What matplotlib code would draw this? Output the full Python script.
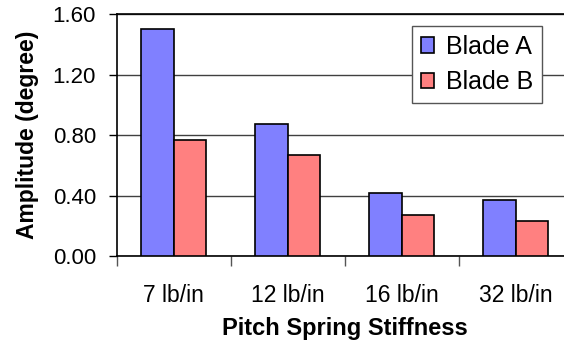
import matplotlib
matplotlib.use('Agg')
import matplotlib.pyplot as plt
import numpy as np

categories = ['7 lb/in', '12 lb/in', '16 lb/in', '32 lb/in']
blade_a = [1.50, 0.87, 0.42, 0.37]
blade_b = [0.77, 0.67, 0.27, 0.23]

plt.rcParams['font.family'] = ['Liberation Sans', 'DejaVu Sans']

fig = plt.figure(figsize=(5.64, 3.41), dpi=100)
ax = fig.add_axes([0.207, 0.249, 0.809, 0.710])

x = np.arange(len(categories))
w = 0.285
ax.bar(x - w / 2, blade_a, w, color='#8080FF', edgecolor='black', lw=1.2, label='Blade A', zorder=3)
ax.bar(x + w / 2, blade_b, w, color='#FF8080', edgecolor='black', lw=1.2, label='Blade B', zorder=3)

ax.set_xlim(-0.5, 3.5)
ax.set_ylim(0, 1.6)
ax.set_yticks(np.arange(0, 1.61, 0.4))
ax.set_yticklabels(['%.2f' % v for v in np.arange(0, 1.61, 0.4)], fontsize=16)
ax.yaxis.grid(True, color='#404040', lw=1.0, zorder=0)

# category labels sit between the boundary ticks
ax.set_xticks(np.arange(-0.5, 3.6, 1.0))
ax.set_xticklabels([])
ax.set_xticks(x, minor=True)
ax.set_xticklabels(categories, minor=True, fontsize=16.5)
ax.tick_params(axis='x', which='minor', length=0, pad=20)
ax.tick_params(axis='x', which='major', direction='out', length=7, width=1, color='#555555')
ax.tick_params(axis='y', direction='out', length=6, width=1, pad=9)

ax.spines['right'].set_visible(False)
for s in ['top', 'left', 'bottom']:
    ax.spines[s].set_linewidth(1.2)
    ax.spines[s].set_color('black')

ax.set_xlabel('Pitch Spring Stiffness', fontsize=17, fontweight='bold', labelpad=7)
ax.set_ylabel('Amplitude (degree)', fontsize=16.5, fontweight='bold', labelpad=10)

leg = ax.legend(loc='upper left', bbox_to_anchor=(0.647, 0.95), fontsize=18,
                frameon=True, fancybox=False, edgecolor='#555555', framealpha=1,
                handlelength=0.55, handleheight=0.55, handletextpad=0.45,
                borderpad=0.35, labelspacing=0.45, borderaxespad=0)
leg.get_frame().set_linewidth(1.0)

fig.savefig('out.png', dpi=100)
